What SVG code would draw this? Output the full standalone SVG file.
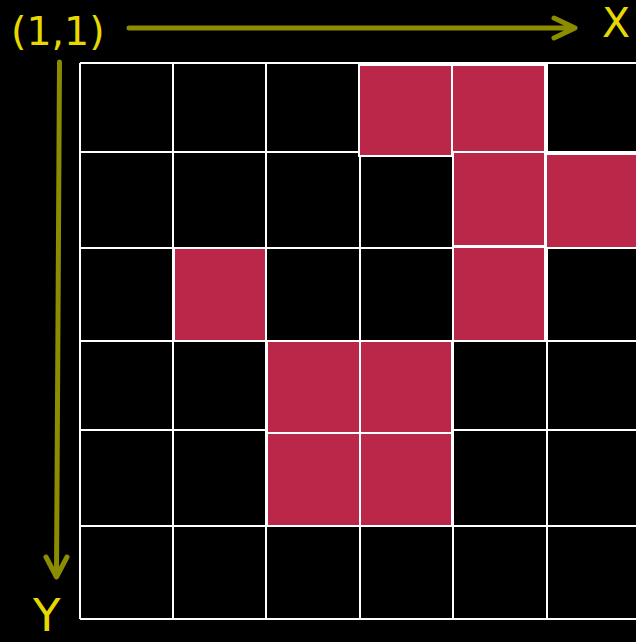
<svg xmlns="http://www.w3.org/2000/svg" width="636" height="642" viewBox="0 0 636 642">
<style>
.grid{stroke:#ffffff;stroke-width:2;fill:none}
.cell{fill:#ba2748;stroke:#ffffff;stroke-width:2}
.axis{stroke:#8c8c00;stroke-width:5;fill:none;stroke-linecap:round;stroke-linejoin:round}
.lbl{fill:#e6d800;font-family:"DejaVu Sans",Verdana,sans-serif}
</style>
<rect x="0" y="0" width="636" height="642" fill="#000000"/>
<g id="grid" class="grid">
<path d="M80 63H640M80 152H640M80 248H640M80 341H640M80 430H640M80 526H640M80 619H640"/>
<path d="M80 63V619M173 63V619M266 63V619M360 63V619M453 63V619M547 63V619"/>
</g>
<g id="cell-1-4"><rect class="cell" x="359" y="65" width="93" height="91"/></g>
<g id="cell-1-5"><rect class="cell" x="452" y="65" width="93" height="87"/></g>
<g id="cell-2-5"><rect class="cell" x="453" y="152" width="92" height="94"/></g>
<g id="cell-2-6"><rect class="cell" x="546" y="154" width="92" height="94"/></g>
<g id="cell-3-2"><rect class="cell" x="174" y="248" width="92" height="93"/></g>
<g id="cell-3-5"><rect class="cell" x="453" y="247" width="92" height="94"/></g>
<g id="cell-4-3"><rect class="cell" x="267" y="341" width="93" height="92"/></g>
<g id="cell-4-4"><rect class="cell" x="360" y="341" width="92" height="92"/></g>
<g id="cell-5-3"><rect class="cell" x="267" y="433" width="93" height="93"/></g>
<g id="cell-5-4"><rect class="cell" x="360" y="433" width="92" height="93"/></g>
<g id="connectors" class="axis">
<path d="M129 28H574M554 18L575 28L554 38"/>
<path d="M59.5 62L56.5 576M46 557L56.5 577L67 557"/>
</g>
<g id="labels">
<text class="lbl" x="11" y="45" font-size="39.5">(1,1)</text>
<text class="lbl" x="602" y="37" font-size="41">X</text>
<text class="lbl" x="33" y="631" font-size="45">Y</text>
</g>
</svg>
